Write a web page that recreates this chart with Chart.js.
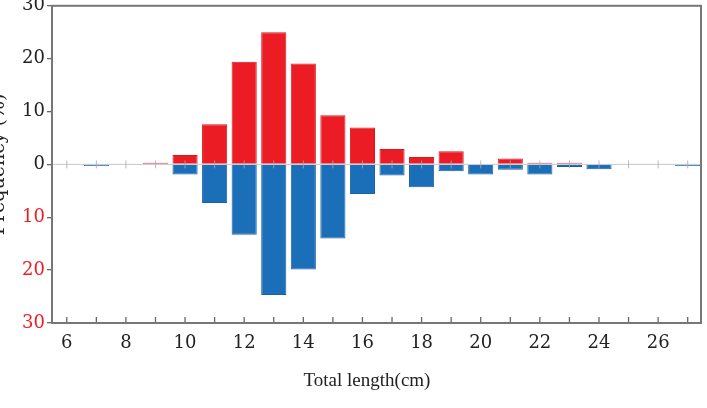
<!DOCTYPE html>
<html>
<head>
<meta charset="utf-8">
<script src="https://cdn.jsdelivr.net/npm/chart.js@4.4.1/dist/chart.umd.min.js"></script>
<style>
    html, body { margin: 0; padding: 0; background: #fff; }
    #janela { width: 707px; height: 408px; position: relative; overflow: hidden; }
    /* a bit taller and pulled up so the top "30" gets cut like in the original */
    #box { width: 707px; height: 415px; position: absolute; left: 0; top: -7px; }
</style>
</head>
<body>
<div id="janela"><div id="box"><canvas id="chartFreq"></canvas></div></div>
<script>
// total length classes (cm)
const comprimentos = [6, 7, 8, 9, 10, 11, 12, 13, 14, 15, 16, 17, 18, 19, 20, 21, 22, 23, 24, 25, 26, 27];
// upper series (red), frequency %
const freqVermelho = [0, 0, 0, 0.3, 1.8, 7.6, 19.4, 25.0, 19.1, 9.3, 7.0, 2.9, 1.4, 2.5, 0, 1.1, 0.3, 0.3, 0, 0, 0, 0];
// lower series (blue), frequency % drawn downward
const freqAzul = [0, 0.3, 0, 0.1, 1.9, 7.3, 13.3, 24.7, 19.9, 14.0, 5.6, 2.1, 4.3, 1.3, 1.9, 1.0, 1.9, 0.5, 0.9, 0, 0, 0.3];
const ticksY = [-30, -20, -10, 0, 10, 20, 30];

const VERMELHO = '#ec1c24';
const AZUL = '#1b6fb8';
const FONTE = 'DejaVu Serif';

// frame, inner ticks on the bottom axis, zero line with small marks, titles
const molduraPlugin = {
    id: 'moldura',
    afterDatasetsDraw(chart) {
        const ctx = chart.ctx;
        const area = chart.chartArea;
        const sx = chart.scales.x;
        const sy = chart.scales.y;
        const y0 = sy.getPixelForValue(0);

        ctx.save();
        // zero line
        ctx.strokeStyle = 'rgba(190,195,200,0.9)';
        ctx.lineWidth = 1;
        ctx.beginPath();
        ctx.moveTo(area.left, y0);
        ctx.lineTo(area.right, y0);
        ctx.stroke();

        comprimentos.forEach(c => {
            const px = sx.getPixelForValue(c);
            ctx.strokeStyle = 'rgba(170,170,170,0.8)';
            ctx.beginPath();
            ctx.moveTo(px, y0 - 4);
            ctx.lineTo(px, y0 + 4);
            ctx.stroke();

            ctx.strokeStyle = '#666';
            ctx.lineWidth = 1.3;
            ctx.beginPath();
            ctx.moveTo(px, area.bottom);
            ctx.lineTo(px, area.bottom - 6);
            ctx.stroke();
            ctx.lineWidth = 1;
        });

        // box
        ctx.strokeStyle = '#777';
        ctx.lineWidth = 2;
        ctx.strokeRect(area.left, area.top, area.right - area.left, area.bottom - area.top);

        // x title (sits a little left of the plot centre in the original)
        ctx.fillStyle = '#222';
        ctx.font = '19px "Liberation Serif"';
        ctx.textAlign = 'center';
        ctx.textBaseline = 'middle';
        ctx.fillText('Total length(cm)', 367, area.bottom + 58);

        // y title, cut at the left edge like the original
        ctx.translate(4, (area.top + area.bottom) / 2);
        ctx.rotate(-Math.PI / 2);
        ctx.font = '19px "' + FONTE + '"';
        ctx.textBaseline = 'alphabetic';
        ctx.fillText('Frequency (%)', 0, 0);
        ctx.restore();
    }
};

function montarGrafico() {
    const ctx = document.getElementById('chartFreq').getContext('2d');

    new Chart(ctx, {
        type: 'bar',
        data: {
            datasets: [{
                label: 'red',
                data: comprimentos.map((c, i) => ({ x: c, y: freqVermelho[i] })),
                backgroundColor: VERMELHO,
                borderColor: '#d81820',
                borderWidth: 1,
                barPercentage: 0.85,
                categoryPercentage: 1
            }, {
                label: 'blue',
                data: comprimentos.map((c, i) => ({ x: c, y: -freqAzul[i] })),
                backgroundColor: AZUL,
                borderColor: '#1862a8',
                borderWidth: 1,
                barPercentage: 0.85,
                categoryPercentage: 1
            }]
        },
        options: {
            responsive: true,
            maintainAspectRatio: false,
            animation: false,
            layout: { padding: { left: 0, right: 6, top: 5, bottom: 0 } },
            plugins: {
                legend: { display: false },
                tooltip: { enabled: false }
            },
            scales: {
                x: {
                    type: 'linear',
                    stacked: true,
                    offset: false,
                    min: 5.5,
                    max: 27.45,
                    grid: { display: false, drawTicks: false },
                    border: { display: false },
                    ticks: {
                        stepSize: 1,
                        includeBounds: false,
                        autoSkip: false,
                        maxRotation: 0,
                        padding: 10,
                        color: '#222',
                        font: { family: FONTE, size: 18 },
                        callback: v => (v % 2 === 0 ? String(v) : '')
                    },
                    afterFit: s => { s.height = 85; }
                },
                y: {
                    stacked: true,
                    min: -30,
                    max: 30,
                    afterBuildTicks: s => { s.ticks = ticksY.map(v => ({ value: v })); },
                    grid: { drawOnChartArea: false, drawTicks: true, tickLength: 5, color: '#666', lineWidth: 1.3 },
                    border: { display: false },
                    ticks: {
                        padding: 2,
                        color: c => (c.tick.value < 0 ? VERMELHO : '#222'),
                        font: { family: FONTE, size: 18 },
                        callback: v => String(Math.abs(v))
                    },
                    afterFit: s => { s.width = 52; }
                }
            }
        },
        plugins: [molduraPlugin]
    });
}

montarGrafico();
</script>
</body>
</html>
